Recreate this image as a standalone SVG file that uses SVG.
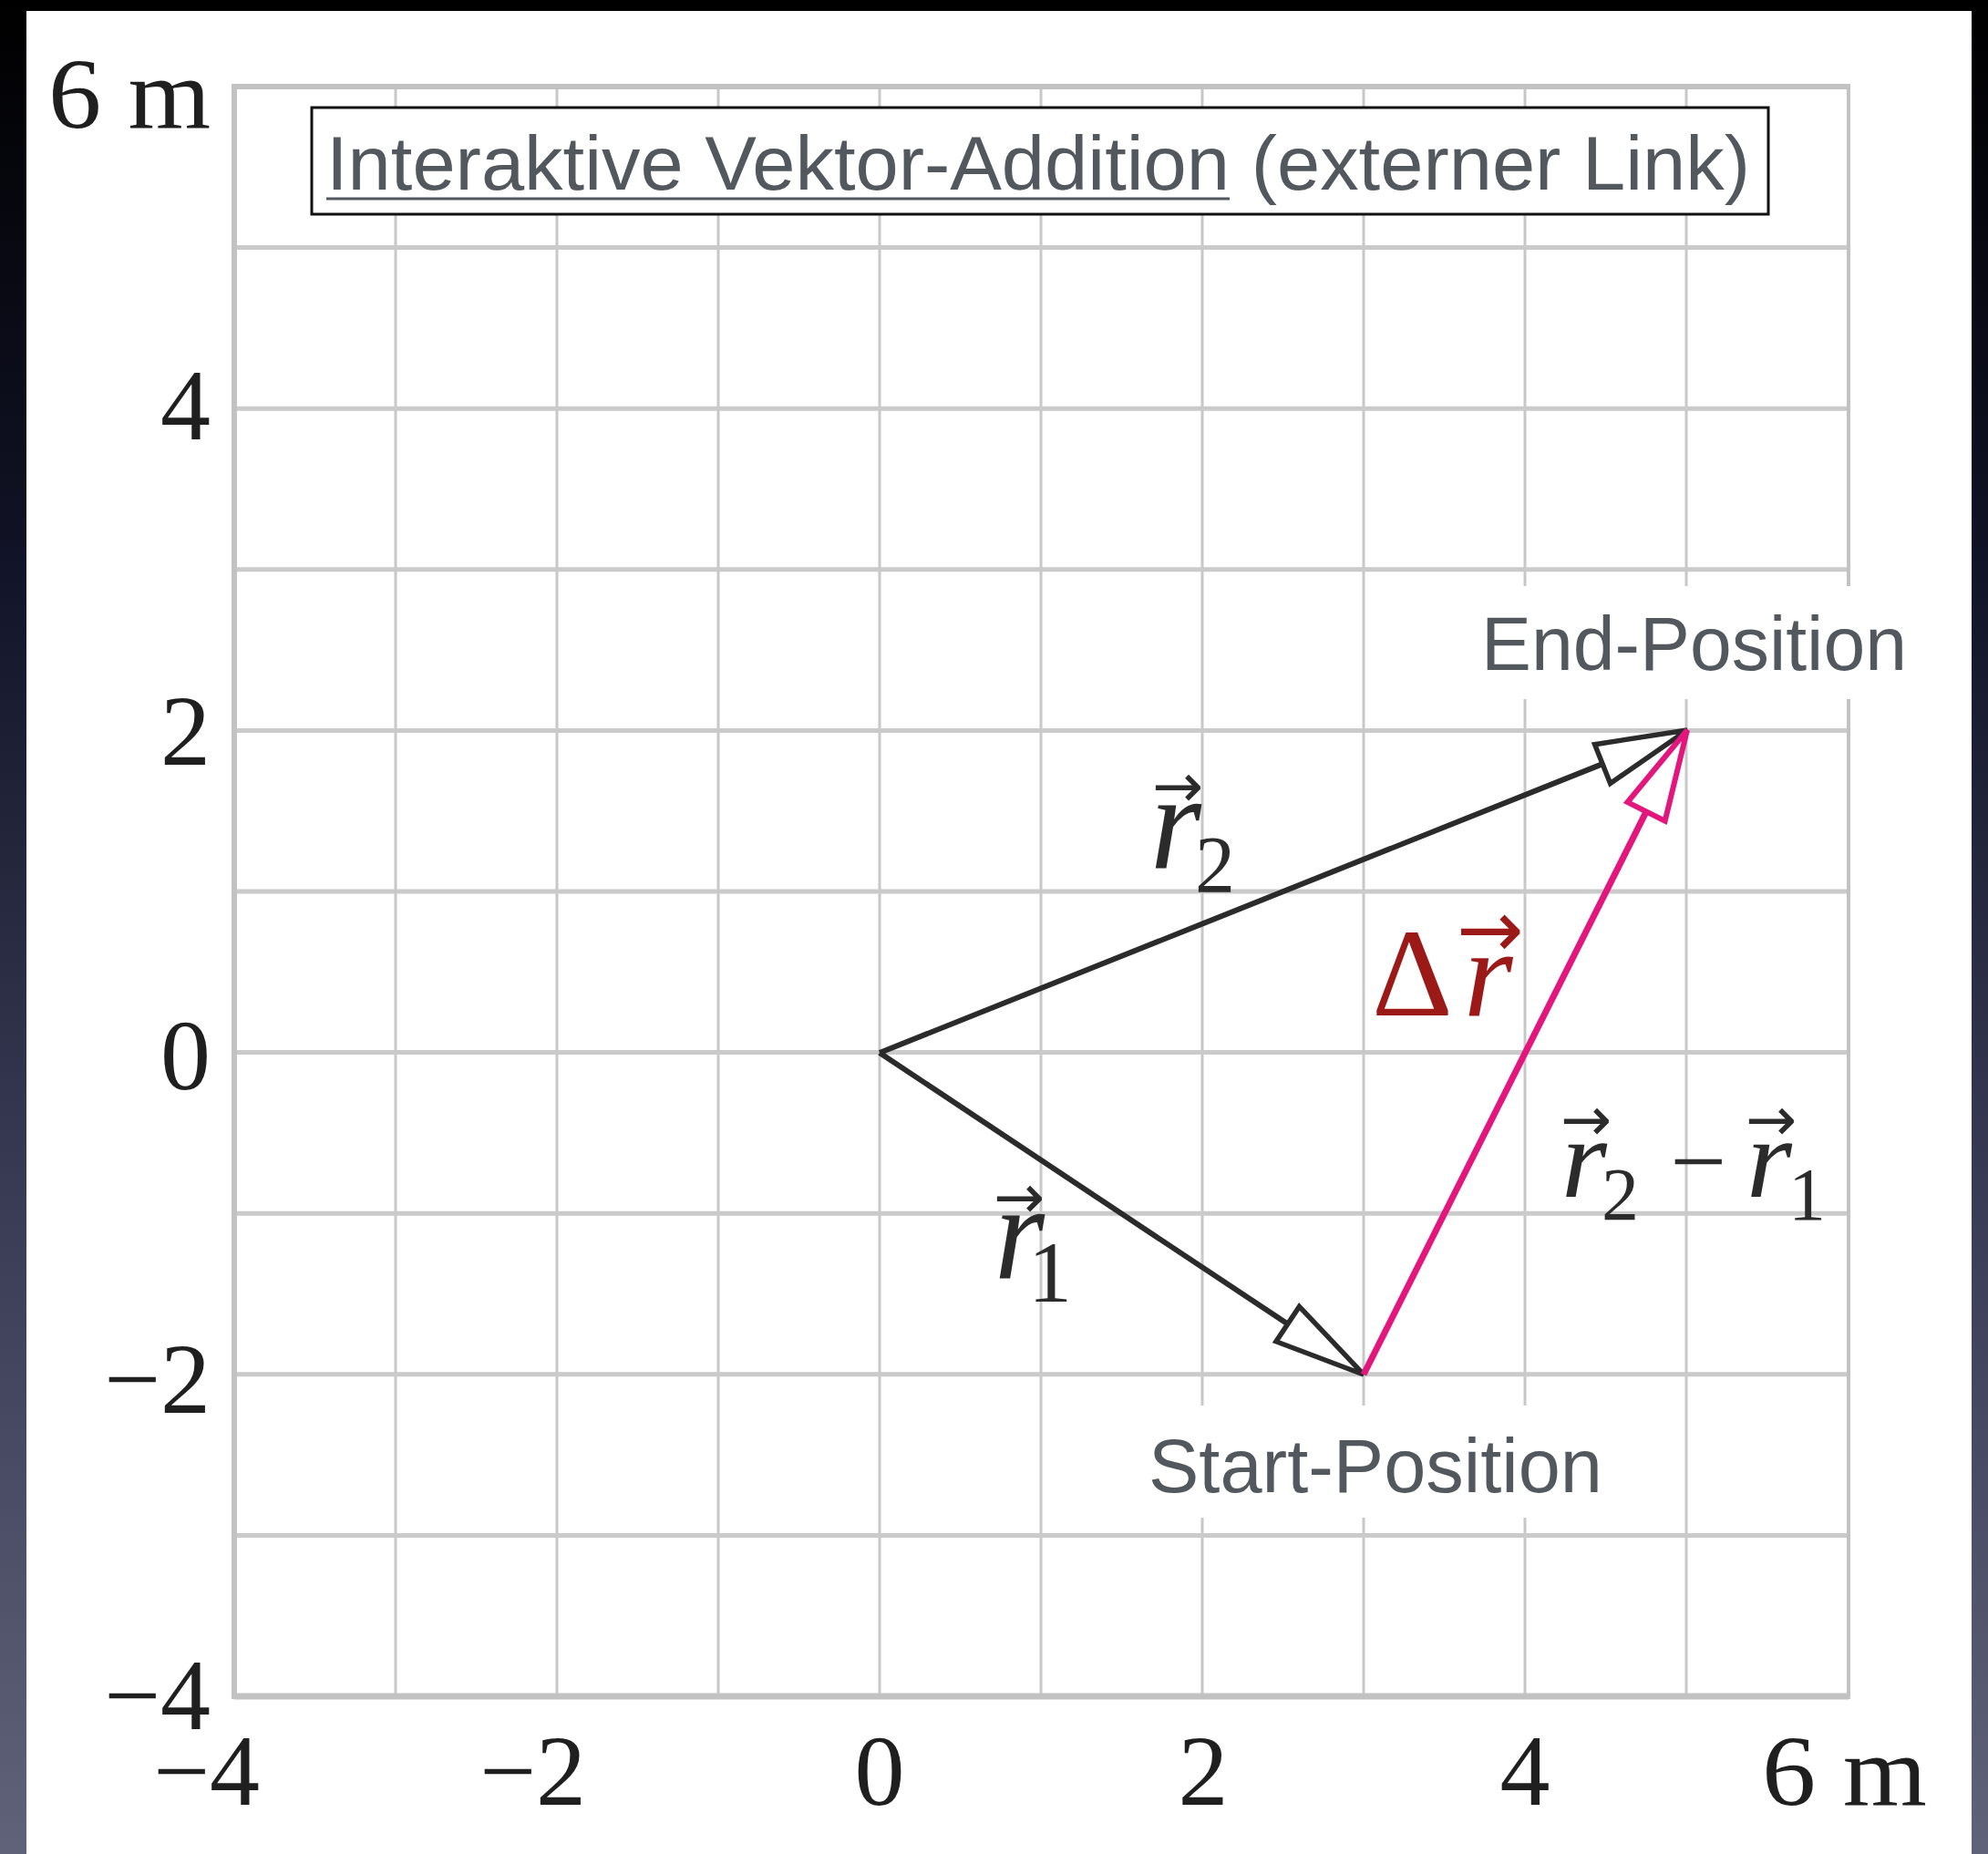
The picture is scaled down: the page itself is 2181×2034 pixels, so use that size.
<svg xmlns="http://www.w3.org/2000/svg" width="2181" height="2034" viewBox="0 0 2181 2034">
<defs>
  <linearGradient id="bg" x1="0" y1="0" x2="0" y2="1">
    <stop offset="0" stop-color="#000000"/>
    <stop offset="0.3" stop-color="#111326"/>
    <stop offset="0.65" stop-color="#3a3c56"/>
    <stop offset="1" stop-color="#606279"/>
  </linearGradient>
  <marker id="headBlack" markerUnits="userSpaceOnUse" viewBox="-6 -30 114 60" markerWidth="114" markerHeight="60" refX="0" refY="0" orient="auto">
    <path d="M100,0 L0,-23 L0,23 Z" fill="#ffffff" stroke="#2b2b2b" stroke-width="5.5"/>
  </marker>
  <marker id="headPink" markerUnits="userSpaceOnUse" viewBox="-6 -30 114 60" markerWidth="114" markerHeight="60" refX="0" refY="0" orient="auto">
    <path d="M100,0 L0,-23 L0,23 Z" fill="#ffffff" stroke="#e2167c" stroke-width="6"/>
  </marker>
</defs>
<style>
  .gv{stroke:#c8c8c8;stroke-width:3}
  .gh{stroke:#cacaca;stroke-width:5}
  .frame{stroke:#c2c2c2;fill:none}
  .ax{font-family:"Liberation Serif","Times New Roman",serif;font-size:110px;fill:#1f1f1f}
  .lab{font-family:"Liberation Sans",Arial,sans-serif;font-size:84px;fill:#52585e}
  .vr{font-family:"Liberation Serif","Times New Roman",serif;font-style:italic;fill:#2b2b2b}
  .vs{font-family:"Liberation Serif","Times New Roman",serif;fill:#2b2b2b}
  .acc{font-family:"DejaVu Sans",sans-serif;fill:#2b2b2b;font-size:67px}
  .vline{stroke:#2b2b2b;stroke-width:6;fill:none}
  .dline{stroke:#e2167c;stroke-width:7;fill:none}
</style>

<!-- background -->
<rect x="0" y="0" width="2181" height="2034" fill="url(#bg)"/>
<rect x="29" y="12" width="2134" height="2022" fill="#ffffff"/>

<!-- grid -->
<g id="grid">
  <line class="gv" x1="434" y1="95" x2="434" y2="1861"/>
  <line class="gv" x1="611" y1="95" x2="611" y2="1861"/>
  <line class="gv" x1="788" y1="95" x2="788" y2="1861"/>
  <line class="gv" x1="965" y1="95" x2="965" y2="1861"/>
  <line class="gv" x1="1142" y1="95" x2="1142" y2="1861"/>
  <line class="gv" x1="1319" y1="95" x2="1319" y2="1861"/>
  <line class="gv" x1="1496" y1="95" x2="1496" y2="1861"/>
  <line class="gv" x1="1673" y1="95" x2="1673" y2="1861"/>
  <line class="gv" x1="1850" y1="95" x2="1850" y2="1861"/>
  <line class="gh" x1="257" y1="271.6" x2="2028" y2="271.6"/>
  <line class="gh" x1="257" y1="448.2" x2="2028" y2="448.2"/>
  <line class="gh" x1="257" y1="624.8" x2="2028" y2="624.8"/>
  <line class="gh" x1="257" y1="801.4" x2="2028" y2="801.4"/>
  <line class="gh" x1="257" y1="978" x2="2028" y2="978"/>
  <line class="gh" x1="257" y1="1154.6" x2="2028" y2="1154.6"/>
  <line class="gh" x1="257" y1="1331.2" x2="2028" y2="1331.2"/>
  <line class="gh" x1="257" y1="1507.8" x2="2028" y2="1507.8"/>
  <line class="gh" x1="257" y1="1684.4" x2="2028" y2="1684.4"/>
  <line class="frame" x1="257" y1="95" x2="2028" y2="95" stroke-width="6"/>
  <line class="frame" x1="257" y1="1861" x2="2028" y2="1861" stroke-width="7"/>
  <line class="frame" x1="257" y1="92" x2="257" y2="1864" stroke-width="6"/>
  <line class="frame" x1="2028" y1="92" x2="2028" y2="1864" stroke-width="4"/>
</g>

<!-- axis labels -->
<g id="y-axis-labels" class="ax" text-anchor="end">
  <text x="231" y="140" textLength="178" lengthAdjust="spacingAndGlyphs">6 m</text>
  <text x="231" y="482">4</text>
  <text x="231" y="839">2</text>
  <text x="231" y="1195">0</text>
  <text x="231" y="1550">−2</text>
  <text x="231" y="1897">−4</text>
</g>
<g id="x-axis-labels" class="ax">
  <text x="285" y="1980" text-anchor="end">−4</text>
  <text x="643" y="1980" text-anchor="end">−2</text>
  <text x="965" y="1980" text-anchor="middle">0</text>
  <text x="1320" y="1980" text-anchor="middle">2</text>
  <text x="1673" y="1980" text-anchor="middle">4</text>
  <text x="1933" y="1980" textLength="181" lengthAdjust="spacingAndGlyphs">6 m</text>
</g>

<!-- title link box -->
<g id="title-link">
  <rect x="342" y="118" width="1598" height="117" fill="#ffffff" stroke="#111111" stroke-width="3"/>
  <text class="lab" x="358" y="208" textLength="1562" lengthAdjust="spacingAndGlyphs">Interaktive Vektor-Addition (externer Link)</text>
  <line x1="358" y1="218" x2="1349" y2="218" stroke="#52585e" stroke-width="3"/>
</g>

<!-- position labels -->
<g id="end-position">
  <rect x="1620" y="643" width="490" height="124" fill="#ffffff"/>
  <text class="lab" x="1625" y="735" textLength="467" lengthAdjust="spacingAndGlyphs">End-Position</text>
</g>
<g id="start-position">
  <rect x="1245" y="1542" width="530" height="123" fill="#ffffff"/>
  <text class="lab" x="1260" y="1637" textLength="498" lengthAdjust="spacingAndGlyphs">Start-Position</text>
</g>

<!-- connectors (vectors) -->
<g id="connectors">
  <line id="vec-r1" class="vline" x1="965" y1="1155" x2="1412.7" y2="1452.6" marker-end="url(#headBlack)"/>
  <line id="vec-r2" class="vline" x1="965" y1="1155" x2="1758.1" y2="838.1" marker-end="url(#headBlack)"/>
  <line id="vec-dr" class="dline" x1="1496" y1="1508" x2="1806.1" y2="890.4" marker-end="url(#headPink)"/>
</g>

<!-- vector labels -->
<g id="label-r2">
  <text class="acc" x="1264" y="885">→</text>
  <text class="vr" x="1262" y="953" font-size="150" textLength="56" lengthAdjust="spacingAndGlyphs">r</text>
  <text class="vs" x="1311" y="978" font-size="88">2</text>
</g>
<g id="label-r1">
  <text class="acc" x="1090" y="1336">→</text>
  <text class="vr" x="1091" y="1403" font-size="150" textLength="55" lengthAdjust="spacingAndGlyphs">r</text>
  <text class="vs" x="1128" y="1428" font-size="96">1</text>
</g>
<g id="label-delta-r">
  <text x="1505" y="1114" font-family="Liberation Serif, Times New Roman, serif" font-size="138" fill="#9b1a17">Δ</text>
  <text x="1606" y="1114" font-family="Liberation Serif, Times New Roman, serif" font-style="italic" font-size="138" fill="#9b1a17">r</text>
  <text x="1598" y="1050" font-family="DejaVu Sans, sans-serif" font-size="88" fill="#9b1a17">→</text>
</g>
<g id="label-r2-minus-r1">
  <text class="acc" x="1712" y="1251">→</text>
  <text class="vr" x="1713" y="1313" font-size="125" textLength="50" lengthAdjust="spacingAndGlyphs">r</text>
  <text class="vs" x="1757" y="1338" font-size="82">2</text>
  <text class="vs" x="1832" y="1311" font-size="110">−</text>
  <text class="acc" x="1915" y="1251">→</text>
  <text class="vr" x="1916" y="1313" font-size="125" textLength="50" lengthAdjust="spacingAndGlyphs">r</text>
  <text class="vs" x="1962" y="1338" font-size="82">1</text>
</g>
</svg>
